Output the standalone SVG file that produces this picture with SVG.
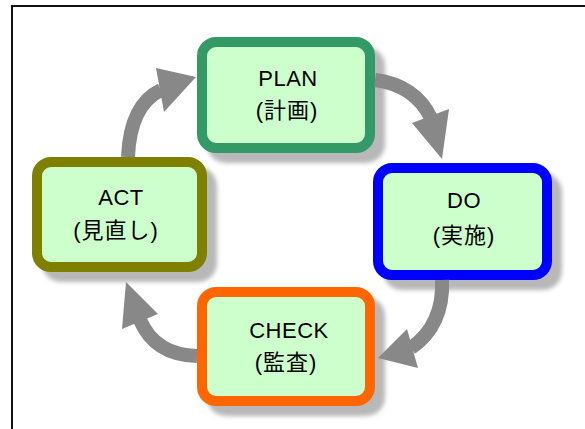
<svg xmlns="http://www.w3.org/2000/svg" width="585" height="429" viewBox="0 0 585 429">
<defs>
<filter id="blur" x="-10%" y="-10%" width="120%" height="120%"><feGaussianBlur stdDeviation="2"/></filter>
</defs>
<style>
.shadow{fill:#b8b8b8;filter:url(#blur)}
.box{fill:#ccffcc;stroke-width:10}
.t1{font-family:"Liberation Sans","Noto Sans CJK JP",sans-serif;font-size:22px;text-anchor:middle;fill:#000;letter-spacing:0.5px}
.t2{font-family:"Liberation Sans","Noto Sans CJK JP",sans-serif;font-size:22px;text-anchor:middle;fill:#000;letter-spacing:1px}
.shaft{fill:none;stroke:#888888;stroke-width:14}
.head{fill:#888888}
</style>
<rect x="0" y="0" width="585" height="429" fill="#ffffff"/>
<rect x="12" y="6" width="620" height="480" fill="none" stroke="#111" stroke-width="2"/>

<g id="plan">
<rect class="shadow" x="207" y="47" width="178" height="116" rx="19"/>
<rect class="box" x="202" y="42" width="168" height="106" rx="14" stroke="#339966"/>
<text class="t1" x="288" y="86">PLAN</text>
<text class="t2" x="287" y="118">(計画)</text>
</g>

<g id="do">
<rect class="shadow" x="383" y="173" width="179" height="117" rx="19"/>
<rect class="box" x="378" y="168" width="169" height="107" rx="14" stroke="#0000ff"/>
<text class="t1" x="464" y="208">DO</text>
<text class="t2" x="464" y="243">(実施)</text>
</g>

<g id="act">
<rect class="shadow" x="42" y="167" width="175" height="115" rx="19"/>
<rect class="box" x="37" y="162" width="165" height="105" rx="14" stroke="#808000"/>
<text class="t1" x="121" y="205">ACT</text>
<text class="t2" x="116" y="238">(見直し)</text>
</g>

<g id="check">
<rect class="shadow" x="207" y="297" width="178" height="119" rx="19"/>
<rect class="box" x="202" y="292" width="168" height="109" rx="14" stroke="#ff6600"/>
<text class="t1" x="289" y="338">CHECK</text>
<text class="t2" x="286" y="370">(監査)</text>
</g>

<g id="connectors">
<path class="shaft" d="M128,157 Q130,105 161,90"/>
<polygon class="head" points="156,68 196,77 164,112"/>
<path class="shaft" d="M375,80 Q415,85 431,118"/>
<polygon class="head" points="412,123 449,109 442,159"/>
<path class="shaft" d="M442,280 Q444,325 411,348"/>
<polygon class="head" points="407,329 418,368 378,358"/>
<path class="shaft" d="M197,356 Q155,355 140,320"/>
<polygon class="head" points="122,329 158,314 126,282"/>
</g>
</svg>
